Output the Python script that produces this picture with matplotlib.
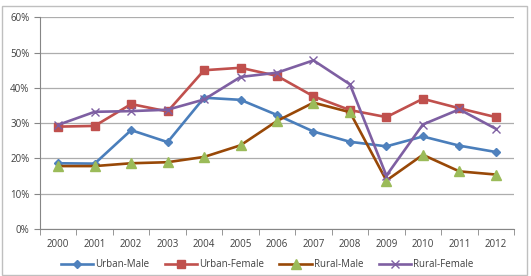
import matplotlib
matplotlib.use("Agg")
import matplotlib.pyplot as plt
from matplotlib.patches import Rectangle
from matplotlib.ticker import FuncFormatter, FixedLocator

years = ["2000", "2001", "2002", "2003", "2004", "2005", "2006",
         "2007", "2008", "2009", "2010", "2011", "2012"]
urban_male = [18.6, 18.5, 28.0, 24.6, 37.2, 36.6, 32.3, 27.6, 24.7, 23.4, 26.2, 23.6, 21.8]
urban_female = [29.0, 29.2, 35.4, 33.3, 45.0, 45.7, 43.4, 37.6, 33.7, 31.7, 36.9, 34.2, 31.7]
rural_male = [17.8, 17.8, 18.6, 18.9, 20.4, 23.7, 30.6, 35.8, 33.1, 13.7, 21.0, 16.3, 15.4]
rural_female = [29.5, 33.2, 33.4, 33.8, 36.7, 43.1, 44.3, 47.8, 41.0, 15.1, 29.6, 33.9, 28.4]

plt.rcParams['font.family'] = ['Open Sans', 'DejaVu Sans']

fig = plt.figure(figsize=(5.31, 2.76), dpi=100)
ax = fig.add_axes([0.0753, 0.171, 0.8927, 0.766])

x = range(len(years))
ax.plot(x, urban_male, color="#4A7EBB", lw=1.9, marker="D", ms=4.5,
        mfc="#4F81BD", mec="#4F81BD", label="Urban-Male")
ax.plot(x, urban_female, color="#C0504D", lw=1.9, marker="s", ms=6,
        mfc="#C0504D", mec="#C0504D", label="Urban-Female")
ax.plot(x, rural_male, color="#984807", lw=1.9, marker="^", ms=6.5,
        mfc="#9BBB59", mec="#9BBB59", label="Rural-Male")
ax.plot(x, rural_female, color="#7E5FA2", lw=1.9, marker="x", ms=6,
        mew=1, mec="#7E5FA2", label="Rural-Female")

ax.set_xlim(-0.5, len(years) - 0.5)
ax.set_ylim(0, 60)
ax.set_yticks(range(0, 61, 10))
ax.yaxis.set_major_formatter(FuncFormatter(lambda v, p: f"{v:.0f}%"))
ax.set_xticks(list(x))
ax.set_xticklabels(years)
ax.xaxis.set_minor_locator(FixedLocator([i - 0.5 for i in range(len(years) + 1)]))
ax.tick_params(axis="x", which="major", length=0, labelsize=7, pad=7, colors="#404040")
ax.tick_params(axis="x", which="minor", length=4, color="#868686", direction="out")
ax.tick_params(axis="y", length=4, color="#868686", labelsize=7, labelcolor="#404040")

ax.grid(axis="y", color="#ADADAD", lw=0.9)
ax.set_axisbelow(True)
for side in ["top", "right"]:
    ax.spines[side].set_visible(False)
for side in ["left", "bottom"]:
    ax.spines[side].set_color("#868686")

leg = fig.legend(loc="center", bbox_to_anchor=(0.503, 0.04), ncol=4, frameon=False,
                 fontsize=7, handlelength=3.3, handletextpad=0.2, columnspacing=1.6)
for t in leg.get_texts():
    t.set_color("#404040")

fig.patches.append(Rectangle((0.003, 0.005), 0.99, 0.972, transform=fig.transFigure,
                             fill=False, edgecolor="#BFBFBF", lw=1))

fig.savefig("out.png", dpi=100)
